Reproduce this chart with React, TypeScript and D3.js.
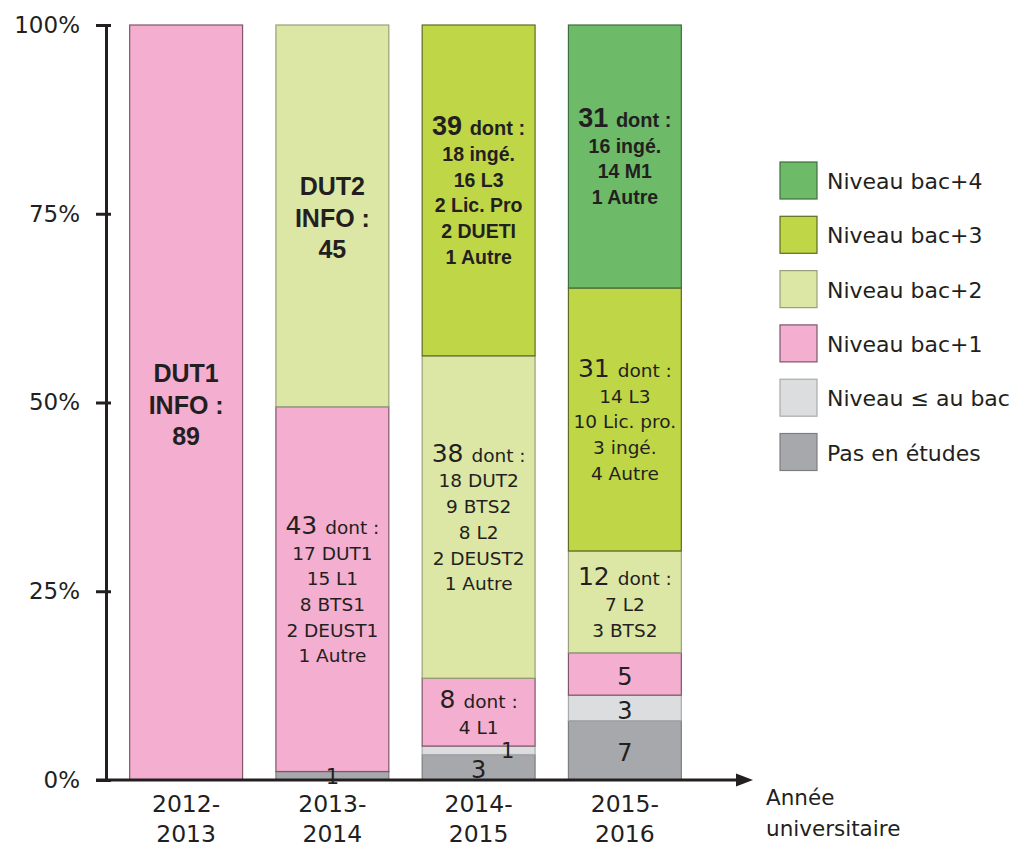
import React, { useEffect, useRef } from "react"
import * as d3 from "d3"

const WIDTH = 1018, HEIGHT = 846;
const MARGIN = { left: 106, top: 25, right: 280, bottom: 66 };
const FONT = "'DejaVu Sans', 'Liberation Sans', sans-serif";
const BOLD_FONT = "'Liberation Sans', Arial, sans-serif";
const INK = "#231f20";

// academic years (x categories)
const YEARS = ["2012-2013", "2013-2014", "2014-2015", "2015-2016"];

// levels, stacked bottom to top
const LEVELS = ["pas", "infbac", "bac1", "bac2", "bac3", "bac4"];
const LEVEL_NAMES = ["Pas en études", "Niveau ≤ au bac", "Niveau bac+1", "Niveau bac+2", "Niveau bac+3", "Niveau bac+4"];
const LEVEL_FILL = ["#a7a8ab", "#dcdddf", "#f3aed0", "#dce7a6", "#bfd647", "#6dba69"];
const LEVEL_STROKE = ["#7d7e81", "#a9aaac", "#7e5569", "#97a07a", "#5e6b22", "#3d6e3d"];

// student counts per level, one value per year
const PAS_EN_ETUDES = [0, 1, 3, 7];
const NIVEAU_INF_BAC = [0, 0, 1, 3];
const NIVEAU_BAC1 = [89, 43, 8, 5];
const NIVEAU_BAC2 = [0, 45, 38, 12];
const NIVEAU_BAC3 = [0, 0, 39, 31];
const NIVEAU_BAC4 = [0, 0, 0, 31];

// text shown inside the segments
const SEGMENT_LABELS = [
	{ year: "2012-2013", level: "bac1", style: "title", lines: ["DUT1", "INFO :", "89"] },
	{ year: "2013-2014", level: "bac2", style: "title", lines: ["DUT2", "INFO :", "45"] },
	{ year: "2013-2014", level: "bac1", style: "plain", lines: ["43 dont :", "17 DUT1", "15 L1", "8 BTS1", "2 DEUST1", "1 Autre"] },
	{ year: "2013-2014", level: "pas", style: "plain", lines: ["1"] },
	{ year: "2014-2015", level: "bac3", style: "bold", lines: ["39 dont :", "18 ingé.", "16 L3", "2 Lic. Pro", "2 DUETI", "1 Autre"] },
	{ year: "2014-2015", level: "bac2", style: "plain", lines: ["38 dont :", "18 DUT2", "9 BTS2", "8 L2", "2 DEUST2", "1 Autre"] },
	{ year: "2014-2015", level: "bac1", style: "plain", lines: ["8 dont :", "4 L1"] },
	{ year: "2014-2015", level: "infbac", style: "plain", lines: ["1"] },
	{ year: "2014-2015", level: "pas", style: "plain", lines: ["3"] },
	{ year: "2015-2016", level: "bac4", style: "bold", lines: ["31 dont :", "16 ingé.", "14 M1", "1 Autre"] },
	{ year: "2015-2016", level: "bac3", style: "plain", lines: ["31 dont :", "14 L3", "10 Lic. pro.", "3 ingé.", "4 Autre"] },
	{ year: "2015-2016", level: "bac2", style: "plain", lines: ["12 dont :", "7 L2", "3 BTS2"] },
	{ year: "2015-2016", level: "bac1", style: "plain", lines: ["5"] },
	{ year: "2015-2016", level: "infbac", style: "plain", lines: ["3"] },
	{ year: "2015-2016", level: "pas", style: "plain", lines: ["7"] }
];

const Y_TICKS = [0, 0.25, 0.5, 0.75, 1];

export default function App() {
	const ref = useRef<SVGSVGElement>(null);

	useEffect(() => {
		const svg = d3.select(ref.current);
		svg.selectAll("*").remove();

		const width = WIDTH - MARGIN.left - MARGIN.right,
			height = HEIGHT - MARGIN.top - MARGIN.bottom;

		const series = [PAS_EN_ETUDES, NIVEAU_INF_BAC, NIVEAU_BAC1, NIVEAU_BAC2, NIVEAU_BAC3, NIVEAU_BAC4];
		const table = YEARS.map((year, i) => {
			const row: any = { year };
			LEVELS.forEach((k, j) => { row[k] = series[j][i]; });
			return row;
		});

		const stacked = d3.stack().keys(LEVELS).offset(d3.stackOffsetExpand)(table);

		const xScale = d3.scaleBand().domain(YEARS)
			.range([7, 592]).paddingInner(0.228).paddingOuter(0.114);
		const yScale = d3.scaleLinear().domain([0, 1]).range([height, 0]);

		const g = svg.append("g").attr("transform", `translate(${MARGIN.left}, ${MARGIN.top})`);

		// bars
		stacked.forEach((layer, li) => {
			g.append("g").selectAll("rect").data(layer.filter(d => d[1] - d[0] > 0)).enter().append("rect")
				.attr("x", (d: any) => xScale(d.data.year)!)
				.attr("y", d => yScale(d[1]))
				.attr("width", xScale.bandwidth())
				.attr("height", d => yScale(d[0]) - yScale(d[1]))
				.attr("fill", LEVEL_FILL[li])
				.attr("stroke", LEVEL_STROKE[li])
				.attr("stroke-width", 1.2);
		});

		// y axis
		const yAxis = d3.axisLeft(yScale).tickValues(Y_TICKS)
			.tickFormat(d3.format(".0%")).tickSizeInner(10).tickSizeOuter(0).tickPadding(16);
		const ya = g.append("g").call(yAxis);
		ya.select(".domain").attr("stroke", INK).attr("stroke-width", 3);
		ya.selectAll(".tick line").attr("x1", 5).attr("x2", -10).attr("stroke", INK).attr("stroke-width", 3);
		ya.selectAll(".tick text").attr("font-family", FONT).attr("font-size", 23).attr("fill", INK);

		// x axis with arrow
		g.append("line")
			.attr("x1", -10).attr("x2", 634).attr("y1", height).attr("y2", height)
			.attr("stroke", INK).attr("stroke-width", 3);
		g.append("path")
			.attr("d", `M${630},${height - 6.5}L${647},${height}L${630},${height + 6.5}Z`)
			.attr("fill", INK);

		YEARS.forEach(year => {
			const parts = year.split("-");
			g.append("text")
				.attr("text-anchor", "middle")
				.attr("font-family", FONT).attr("font-size", 23.5).attr("fill", INK)
				.selectAll("tspan").data([parts[0] + "-", parts[1]]).enter().append("tspan")
				.attr("x", xScale(year)! + xScale.bandwidth() / 2)
				.attr("y", (d, i) => height + 31.5 + i * 30)
				.text(d => d);
		});

		g.append("text")
			.attr("font-family", FONT).attr("font-size", 21.5).attr("fill", INK)
			.selectAll("tspan").data(["Année", "universitaire"]).enter().append("tspan")
			.attr("x", 660)
			.attr("y", (d, i) => height + 25 + i * 31)
			.text(d => d);

		// labels in segments (drawn over the axis, like the original)
		SEGMENT_LABELS.forEach(lab => {
			const li = LEVELS.indexOf(lab.level);
			const seg: any = stacked[li].find((d: any) => d.data.year === lab.year);
			const y0 = yScale(seg[0]), y1 = yScale(seg[1]);
			const cx0 = xScale(lab.year)! + xScale.bandwidth() / 2;
			const tiny = y0 - y1 < 12;
			const thin = tiny && li > 0;
			const cx = thin ? cx0 + 29 : cx0;
			const cy = (y0 + y1) / 2 + (tiny ? 0 : 2);
			const title = lab.style === "title";
			const plain = lab.style === "plain";
			const pitch = title ? 31.5 : 25.7;
			const n = lab.lines.length;

			const text = g.append("text")
				.attr("text-anchor", "middle")
				.attr("font-family", plain ? FONT : BOLD_FONT)
				.attr("fill", INK)
				.attr("font-weight", plain ? "normal" : "bold");

			lab.lines.forEach((line, i) => {
				const baseline = cy - (n - 1) * pitch / 2 + i * pitch + (title ? 9 : 7);
				const m = line.match(/^(\d+) (dont :)$/);
				if (m) {
					const t = text.append("tspan").attr("x", cx).attr("y", baseline);
					t.append("tspan").attr("font-size", plain ? 25 : 27).text(m[1] + " ");
					t.append("tspan").attr("font-size", plain ? 18.5 : 20).text(m[2]);
				} else {
					const single = n === 1;
					text.append("tspan").attr("x", cx).attr("y", single ? baseline + (tiny ? 1 : 2) : baseline)
						.attr("font-size", title ? 25 : single ? (tiny ? 21 : 24) : (plain ? 18.5 : 19.5))
						.text(line);
				}
			});
		});

		// legend, top level first
		const legend = svg.append("g").attr("transform", "translate(780, 162)");
		const order = LEVELS.map((k, i) => i).reverse();
		order.forEach((li, row) => {
			const item = legend.append("g").attr("transform", `translate(0, ${row * 54.3})`);
			item.append("rect")
				.attr("width", 37).attr("height", 37)
				.attr("fill", LEVEL_FILL[li])
				.attr("stroke", LEVEL_STROKE[li]).attr("stroke-width", 1.2);
			item.append("text")
				.attr("x", 47).attr("y", 27)
				.attr("font-family", FONT).attr("font-size", 22).attr("fill", INK)
				.text(LEVEL_NAMES[li]);
		});
	}, []);

	return (
		<svg ref={ref} width={WIDTH} height={HEIGHT}
			style={{ display: "block", position: "absolute", left: 0, top: 0, background: "#fff" }} />
	);
}
